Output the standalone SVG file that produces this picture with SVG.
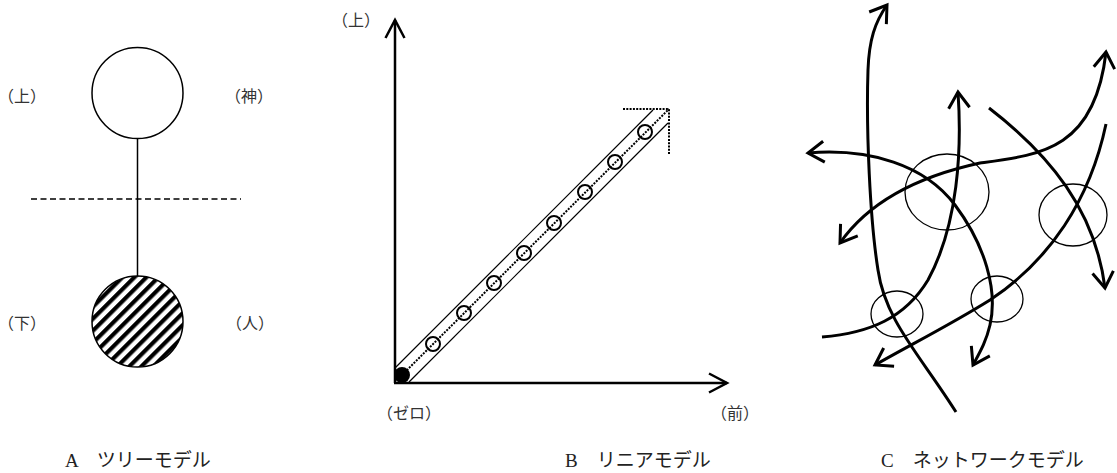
<svg xmlns="http://www.w3.org/2000/svg" width="1117" height="473" viewBox="0 0 1117 473">
  <style>
    .lbl { font-family: "Noto Sans CJK JP", "Liberation Sans", sans-serif; font-size: 16px; fill: #333; text-anchor: middle; }
    .cap { font-family: "Liberation Serif", "Noto Sans CJK JP", serif; font-size: 19px; fill: #222; }
    .thin { fill: none; stroke: #000; stroke-width: 1.5; }
    .axis { fill: none; stroke: #000; stroke-width: 2.5; }
    .band { fill: none; stroke: #000; stroke-width: 1.2; }
    .dot { fill: none; stroke: #000; stroke-width: 2; stroke-dasharray: 2 1.3; }
    .bead { fill: none; stroke: #000; stroke-width: 2; }
    .net { fill: none; stroke: #000; stroke-width: 3; }
    .ring { fill: none; stroke: #000; stroke-width: 1.3; }
  </style>
  <defs>
    <pattern id="hatch" patternUnits="userSpaceOnUse" width="8.5" height="8.5" patternTransform="rotate(-45)">
      <rect x="0" y="0" width="8.5" height="4.2" fill="#000"/>
    </pattern>
    <marker id="ah" markerUnits="userSpaceOnUse" viewBox="-20 -13 24 26" markerWidth="24" markerHeight="26" refX="0" refY="0" orient="auto-start-reverse">
      <path d="M-16,-10.5 L0,0 L-16,10.5" fill="none" stroke="#000" stroke-width="3" stroke-linejoin="miter"/>
    </marker>
    <marker id="ax" markerUnits="userSpaceOnUse" viewBox="-20 -13 24 26" markerWidth="24" markerHeight="26" refX="0" refY="0" orient="auto">
      <path d="M-18,-9.5 L0,0 L-18,9.5" fill="none" stroke="#000" stroke-width="2.5" stroke-linejoin="miter"/>
    </marker>
  </defs>

  <!-- A: tree model -->
  <g id="tree-top"><circle cx="137.5" cy="93" r="45.5" class="thin" fill="#fff"/></g>
  <g id="tree-bottom"><circle cx="137.5" cy="321.5" r="45.5" fill="url(#hatch)" stroke="#000" stroke-width="1.5"/></g>
  <g id="tree-divider"><line x1="31" y1="199" x2="241" y2="199" stroke="#000" stroke-width="1.5" stroke-dasharray="6 3.5"/></g>
  <g id="tree-labels">
    <text class="lbl" x="22" y="102">（上）</text>
    <text class="lbl" x="249" y="102">（神）</text>
    <text class="lbl" x="22" y="329">（下）</text>
    <text class="lbl" x="250" y="329">（人）</text>
  </g>

  <!-- B: linear model -->
  <g id="linear-band">
    <line x1="395" y1="368" x2="653" y2="110" class="band"/>
    <line x1="409" y1="382" x2="668" y2="123" class="band"/>
    <path d="M402,375 L669,109" class="dot"/>
    <path d="M623,109 L669,109 L669,155" class="dot"/>
    <circle cx="433" cy="344" r="7" class="bead"/>
    <circle cx="464" cy="313" r="7" class="bead"/>
    <circle cx="494" cy="283" r="7" class="bead"/>
    <circle cx="524" cy="253" r="7" class="bead"/>
    <circle cx="554" cy="223" r="7" class="bead"/>
    <circle cx="585" cy="192" r="7" class="bead"/>
    <circle cx="615" cy="162" r="7" class="bead"/>
    <circle cx="645" cy="132" r="7" class="bead"/>
  </g>
  <g id="linear-origin"><circle cx="402" cy="375" r="8" fill="#000"/></g>
  <g id="linear-labels">
    <text class="lbl" x="356" y="26">（上）</text>
    <text class="lbl" x="409" y="419">（ゼロ）</text>
    <text class="lbl" x="735" y="419">（前）</text>
  </g>

  <!-- C: network model -->
  <g id="net-node-1"><ellipse cx="947" cy="192" rx="42" ry="38" class="ring"/></g>
  <g id="net-node-2"><ellipse cx="1073" cy="215" rx="34" ry="31" class="ring"/></g>
  <g id="net-node-3"><ellipse cx="897" cy="314" rx="26" ry="23" class="ring"/></g>
  <g id="net-node-4"><ellipse cx="997" cy="299" rx="26" ry="23" class="ring"/></g>

  <g id="connectors">
    <!-- B axes -->
    <path d="M395,383 L395,20" class="axis" marker-end="url(#ax)"/>
    <path d="M394,383 L727,383" class="axis" marker-end="url(#ax)"/>
    <!-- A stem -->
    <line x1="137.5" y1="138.5" x2="137.5" y2="276" class="thin"/>
    <!-- C network curves -->
    <path d="M956,412 C920,355 885,320 878,270 C870,220 866,130 868,70 C869,40 875,22 887,5" class="net" marker-end="url(#ah)"/>
    <path d="M808,153 C870,148 925,165 955,205 C985,245 998,290 990,325 C986,342 980,352 973,365" class="net" marker-start="url(#ah)" marker-end="url(#ah)"/>
    <path d="M822,337 C870,333 905,318 928,280 C958,225 962,150 958,92" class="net" marker-end="url(#ah)"/>
    <path d="M840,243 C870,200 920,176 980,163 C1040,155 1095,150 1106,52" class="net" marker-start="url(#ah)" marker-end="url(#ah)"/>
    <path d="M989,108 C1050,155 1095,210 1105,288" class="net" marker-end="url(#ah)"/>
    <path d="M1106,124 C1090,200 1050,260 990,300 C950,325 910,345 875,365" class="net" marker-end="url(#ah)"/>
  </g>

  <g id="captions">
    <text class="cap" x="65" y="467">A　ツリーモデル</text>
    <text class="cap" x="565" y="467">B　リニアモデル</text>
    <text class="cap" x="881" y="467">C　ネットワークモデル</text>
  </g>
</svg>
